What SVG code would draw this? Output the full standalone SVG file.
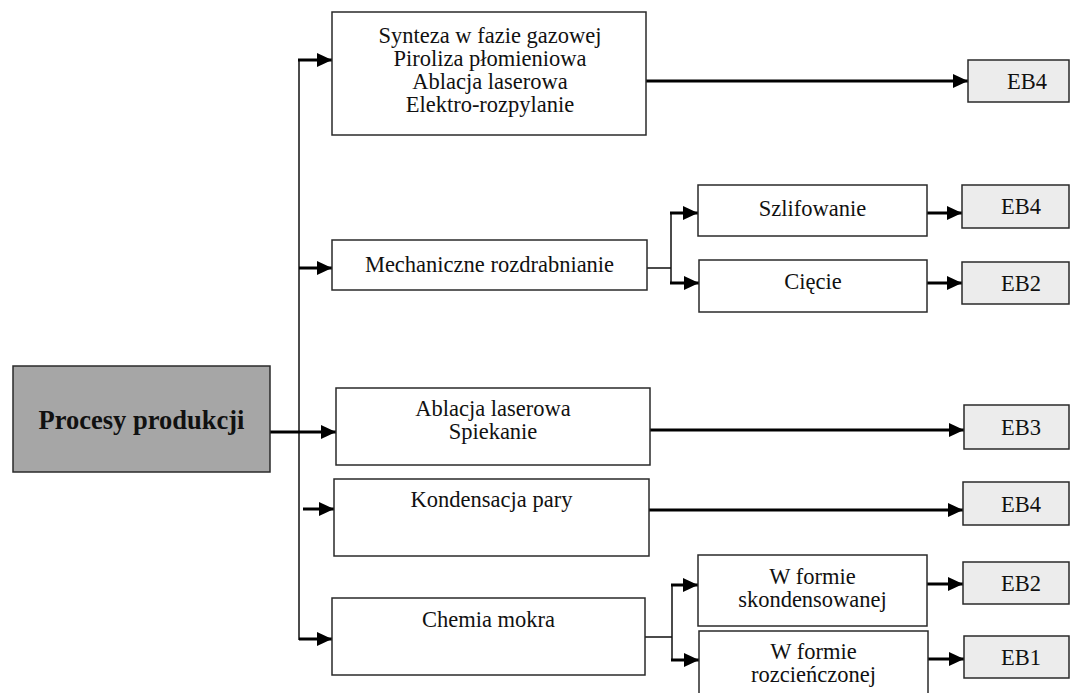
<svg xmlns="http://www.w3.org/2000/svg" width="1071" height="693" viewBox="0 0 1071 693">
<style>
.box{fill:#fff;stroke:#2a2a2a;stroke-width:1.5}
.eb{fill:#ececec;stroke:#2a2a2a;stroke-width:1.5}
.root{fill:#a6a6a6;stroke:#2a2a2a;stroke-width:1.5}
text{font-family:"Liberation Serif","Times New Roman",serif;font-size:22.5px;fill:#111;text-anchor:middle}
.b{font-weight:bold;font-size:26.5px}
.thin{fill:none;stroke:#111;stroke-width:1.5}
.arr{fill:none;stroke:#000;stroke-width:3;marker-end:url(#ah)}
</style>
<defs>
<marker id="ah" markerUnits="userSpaceOnUse" markerWidth="16" markerHeight="14" refX="15" refY="7" orient="auto">
<path d="M0,0 L15,7 L0,14 Z" fill="#000"/>
</marker>
</defs>
<rect width="1071" height="693" fill="#fff"/>
<g id="connectors">
<path class="thin" d="M299,60 V640"/>
<path class="arr" d="M298,60 H332"/>
<path class="arr" d="M299,268 H332"/>
<path class="arr" d="M270,432 H336"/>
<path class="arr" d="M303,509 H334"/>
<path class="arr" d="M299,639 H332"/>
<path class="arr" d="M646,81 H968"/>
<path class="thin" d="M647,268 H671 M671,213 V283"/>
<path class="arr" d="M670,213 H698"/>
<path class="arr" d="M670,283 H699"/>
<path class="arr" d="M927,213 H962"/>
<path class="arr" d="M927,283 H962"/>
<path class="arr" d="M650,430 H964"/>
<path class="arr" d="M649,510 H963"/>
<path class="thin" d="M645,637 H672 M672,585 V660"/>
<path class="arr" d="M671,585 H698"/>
<path class="arr" d="M671,660 H699"/>
<path class="arr" d="M927,584 H963"/>
<path class="arr" d="M928,659 H964"/>
</g>
<g id="root"><rect class="root" x="13" y="366" width="257" height="106"/><text class="b" x="141.5" y="429">Procesy produkcji</text></g>
<g id="n1"><rect class="box" x="332" y="12" width="314" height="123"/>
<text x="490" y="43">Synteza w fazie gazowej</text>
<text x="490" y="66">Piroliza płomieniowa</text>
<text x="490" y="89">Ablacja laserowa</text>
<text x="490" y="112">Elektro-rozpylanie</text></g>
<g id="n2"><rect class="box" x="332" y="240" width="315" height="50"/><text x="489.5" y="272">Mechaniczne rozdrabnianie</text></g>
<g id="n3"><rect class="box" x="336" y="388" width="314" height="77"/><text x="493" y="416">Ablacja laserowa</text><text x="493" y="439">Spiekanie</text></g>
<g id="n4"><rect class="box" x="334" y="479" width="315" height="77"/><text x="491.5" y="507">Kondensacja pary</text></g>
<g id="n5"><rect class="box" x="332" y="598" width="313" height="77"/><text x="488.5" y="627">Chemia mokra</text></g>
<g id="n6"><rect class="box" x="698" y="185" width="229" height="51"/><text x="812.5" y="216">Szlifowanie</text></g>
<g id="n7"><rect class="box" x="699" y="260" width="228" height="52"/><text x="813" y="289">Cięcie</text></g>
<g id="n8"><rect class="box" x="698" y="555" width="229" height="71"/><text x="812.5" y="584">W formie</text><text x="812.5" y="607">skondensowanej</text></g>
<g id="n9"><rect class="box" x="699" y="631" width="229" height="75"/><text x="813.5" y="659">W formie</text><text x="813.5" y="682">rozcieńczonej</text></g>
<g id="eb1"><rect class="eb" x="968" y="60" width="101" height="42"/><text x="1027" y="89">EB4</text></g>
<g id="eb2"><rect class="eb" x="962" y="185" width="107" height="43"/><text x="1021" y="214">EB4</text></g>
<g id="eb3"><rect class="eb" x="962" y="262" width="107" height="42"/><text x="1021" y="291">EB2</text></g>
<g id="eb4"><rect class="eb" x="964" y="405" width="105" height="44"/><text x="1021" y="435">EB3</text></g>
<g id="eb5"><rect class="eb" x="963" y="482" width="106" height="43"/><text x="1021" y="512">EB4</text></g>
<g id="eb6"><rect class="eb" x="963" y="562" width="106" height="42"/><text x="1021" y="591">EB2</text></g>
<g id="eb7"><rect class="eb" x="964" y="636" width="105" height="42"/><text x="1021" y="665">EB1</text></g>
</svg>
